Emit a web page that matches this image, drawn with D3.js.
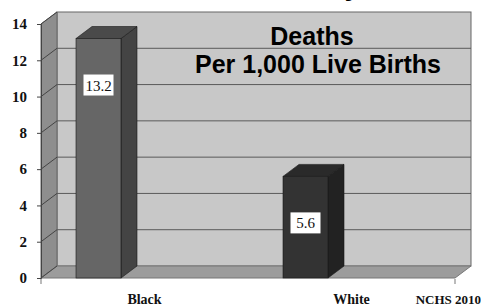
<!DOCTYPE html>
<html>
<head>
<meta charset="utf-8">
<script src="https://cdn.jsdelivr.net/npm/d3@7"></script>
<style>
  body { margin: 0; background: #fff; }
</style>
</head>
<body>
<script>
const categories = ["Black", "White"];
const values = [13.2, 5.6];
const valueLabels = ["13.2", "5.6"];
const yTicks = [0, 2, 4, 6, 8, 10, 12, 14];
const source = "NCHS 2010";

const width = 481, height = 308;
const svg = d3.select("body").append("svg").attr("width", width).attr("height", height);

// 3d depth offset
const dx = 16, dy = -12;
const left = 41, right = 455, bottom = 278;

const y = d3.scaleLinear().domain([0, 14]).range([bottom, 24]);
const x = d3.scaleBand().domain(categories).range([left, right]);
const barW = 45;
const barX = d => x(d) + x.bandwidth() / 2 - 46 - barW / 2;

// cut-off title at the very top
svg.append("text").attr("x", 360).attr("y", -5).attr("text-anchor", "end")
  .style("font", "bold 28px 'Liberation Sans', Arial, sans-serif").text("Infant Mortality");

// back wall
svg.append("rect").attr("x", left + dx).attr("y", y(14) + dy)
  .attr("width", right - left).attr("height", y(0) - y(14))
  .attr("fill", "#c8c8c8").attr("stroke", "#666").attr("stroke-width", 1);

// left side wall
svg.append("path")
  .attr("d", `M${left},${y(0)}L${left},${y(14)}L${left + dx},${y(14) + dy}L${left + dx},${y(0) + dy}Z`)
  .attr("fill", "#8e8e8e").attr("stroke", "#666");

// floor
svg.append("path")
  .attr("d", `M${left},${y(0)}L${right},${y(0)}L${right + dx},${y(0) + dy}L${left + dx},${y(0) + dy}Z`)
  .attr("fill", "#9c9c9c").attr("stroke", "#777");

// gridlines on back wall and side wall
const grid = svg.append("g");
yTicks.filter(t => t > 0 && t < 14).forEach(t => {
  grid.append("line").attr("x1", left + dx).attr("x2", right + dx)
    .attr("y1", y(t) + dy).attr("y2", y(t) + dy).attr("stroke", "#5a5a5a");
});
yTicks.forEach(t => {
  grid.append("line").attr("x1", left).attr("x2", left + dx)
    .attr("y1", y(t)).attr("y2", y(t) + dy).attr("stroke", "#444");
});

// y axis
const yAxis = svg.append("g").attr("transform", `translate(${left},0)`)
  .call(d3.axisLeft(y).tickValues(yTicks).tickSize(4).tickPadding(10));
yAxis.select(".domain").attr("stroke", "#444");
yAxis.selectAll(".tick line").attr("stroke", "#444");
yAxis.selectAll("text").style("font", "bold 15px 'Liberation Serif', 'Times New Roman', serif").attr("fill", "#111");

// small category ticks below the floor
[left, right].forEach(px => {
  svg.append("line").attr("x1", px).attr("x2", px).attr("y1", bottom + 1).attr("y2", bottom + 6)
    .attr("stroke", "#bbb").attr("stroke-width", 2);
});

// bars
const fronts = ["#666666", "#333333"];
const sides = ["#444444", "#222222"];
const tops = ["#4a4a4a", "#2a2a2a"];
const bars = svg.append("g").selectAll("g").data(categories).join("g");
bars.append("path")
  .attr("d", (d, i) => {
    const x0 = barX(d) + barW, yt = y(values[i]);
    return `M${x0},${bottom}L${x0},${yt}L${x0 + dx},${yt + dy}L${x0 + dx},${bottom + dy}Z`;
  })
  .attr("fill", (d, i) => sides[i]).attr("stroke", "#1a1a1a").attr("stroke-width", 0.6);
bars.append("path")
  .attr("d", (d, i) => {
    const x0 = barX(d), yt = y(values[i]);
    return `M${x0},${yt}L${x0 + barW},${yt}L${x0 + barW + dx},${yt + dy}L${x0 + dx},${yt + dy}Z`;
  })
  .attr("fill", (d, i) => tops[i]).attr("stroke", "#1a1a1a").attr("stroke-width", 0.6);
bars.append("rect")
  .attr("x", d => barX(d)).attr("y", (d, i) => y(values[i]))
  .attr("width", barW).attr("height", (d, i) => bottom - y(values[i]))
  .attr("fill", (d, i) => fronts[i]).attr("stroke", "#1a1a1a").attr("stroke-width", 0.6);

// value labels
bars.append("rect")
  .attr("x", d => barX(d) + barW / 2 - 15).attr("y", (d, i) => y(values[i]) + 36)
  .attr("width", 30).attr("height", 21).attr("fill", "#fff");
bars.append("text")
  .attr("x", d => barX(d) + barW / 2).attr("y", (d, i) => y(values[i]) + 52)
  .attr("text-anchor", "middle")
  .style("font", "15px 'Liberation Serif', 'Times New Roman', serif").attr("fill", "#111")
  .text((d, i) => valueLabels[i]);

// category labels
svg.append("g").selectAll("text").data(categories).join("text")
  .attr("x", d => x(d) + x.bandwidth() / 2).attr("y", 304).attr("text-anchor", "middle")
  .style("font", "bold 14px 'Liberation Serif', 'Times New Roman', serif").attr("fill", "#111")
  .text(d => d);
svg.append("text").attr("x", 481).attr("y", 304).attr("text-anchor", "end")
  .style("font", "bold 13px 'Liberation Serif', 'Times New Roman', serif").attr("fill", "#111")
  .text(source);

// chart annotation
const note = svg.append("text").attr("text-anchor", "middle")
  .style("font", "bold 25px 'Liberation Sans', Arial, sans-serif").attr("fill", "#000");
note.append("tspan").attr("x", 312).attr("y", 45).text("Deaths");
note.append("tspan").attr("x", 318).attr("y", 73).text("Per 1,000 Live Births");
</script>
</body>
</html>
